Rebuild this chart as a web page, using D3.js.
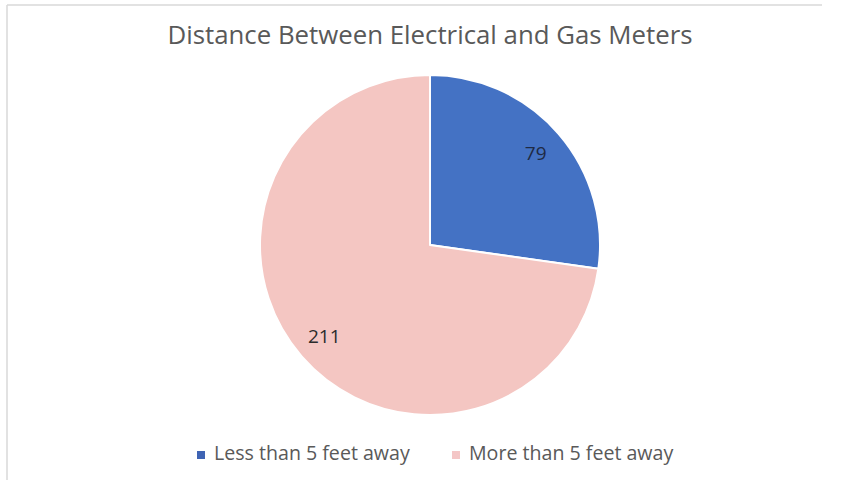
<!DOCTYPE html>
<html><head><meta charset="utf-8">
<script src="https://cdn.jsdelivr.net/npm/d3@7"></script>
<style>html,body{margin:0;padding:0;background:#fff;}svg{display:block;}</style>
</head><body>
<svg id="chart" width="843" height="480"></svg>
<script>
const title = "Distance Between Electrical and Gas Meters";
const categories = ["Less than 5 feet away", "More than 5 feet away"];
const values = [79, 211];
const colors = ["#4472C4", "#F4C6C2"];
const legendColors = ["#3F64B4", "#F4C6C6"];
const labelColors = ["#1F2A44", "#2B2B2B"];

const svg = d3.select("#chart");
const W = 843, H = 480;
const FONT = "'Open Sans', Lato, sans-serif";
svg.append("rect").attr("width", W).attr("height", H).attr("fill", "#fff");
svg.append("line").attr("x1", 7).attr("y1", 5).attr("x2", 822).attr("y2", 5).attr("stroke", "#d9d9d9").attr("stroke-width", 1.5);
svg.append("line").attr("x1", 7).attr("y1", 5).attr("x2", 7).attr("y2", H).attr("stroke", "#d9d9d9").attr("stroke-width", 1.5);

svg.append("text").attr("x", 430).attr("y", 44).attr("text-anchor", "middle")
  .attr("font-family", FONT).attr("font-size", 25.8)
  .attr("fill", "#595959").text(title);

const cx = 430, cy = 245, R = 170;
const pie = d3.pie().sort(null).value(d => d);
const arcs = pie(values);
const arc = d3.arc().innerRadius(0).outerRadius(R);
const labelArc = d3.arc().innerRadius(140).outerRadius(140);
const g = svg.append("g").attr("transform", `translate(${cx},${cy})`);
g.selectAll("path").data(arcs).join("path")
  .attr("d", arc).attr("fill", (d, i) => colors[i])
  .attr("stroke", "#fff").attr("stroke-width", 2).attr("stroke-linejoin", "round");
g.selectAll("text").data(arcs).join("text")
  .attr("transform", d => `translate(${labelArc.centroid(d)})`)
  .attr("text-anchor", "middle").attr("dy", "0.35em")
  .attr("font-family", FONT).attr("font-size", 19)
  .attr("fill", (d, i) => labelColors[i]).text(d => d.data);

const legendX = [197, 452];
const lg = svg.append("g");
categories.forEach((c, i) => {
  lg.append("rect").attr("x", legendX[i]).attr("y", 451).attr("width", 8).attr("height", 8).attr("fill", legendColors[i]);
  lg.append("text").attr("x", legendX[i] + 17).attr("y", 459.5)
    .attr("font-family", FONT).attr("font-size", 19.6)
    .attr("fill", "#595959").text(c);
});
</script>
</body></html>
